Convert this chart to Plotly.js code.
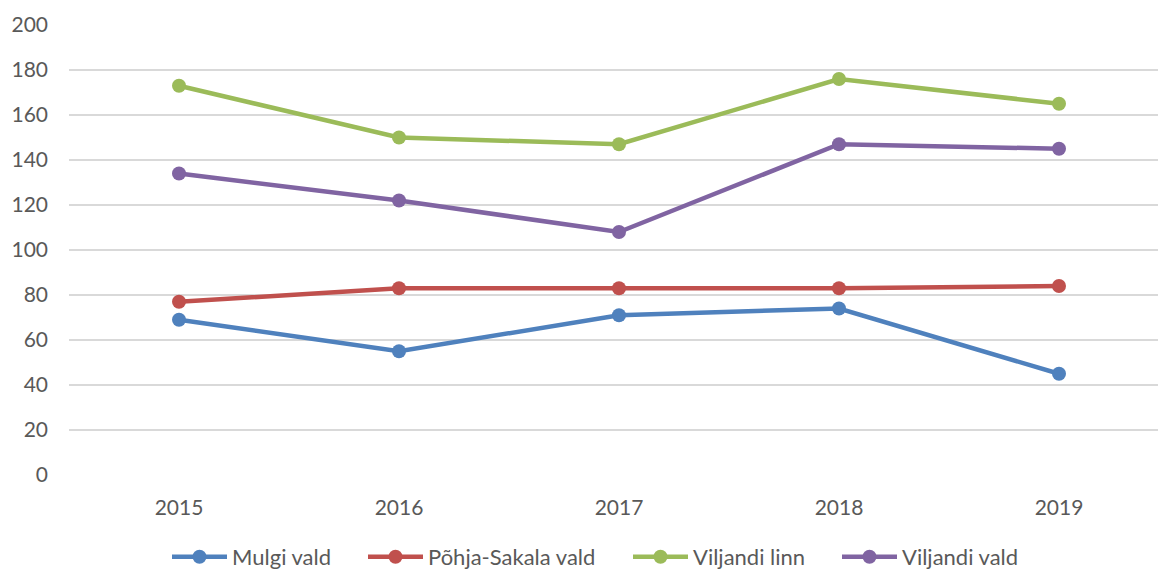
<!DOCTYPE html>
<html>
<head>
<meta charset="utf-8">
<script src="https://cdn.plot.ly/plotly-3.0.1.min.js"></script>
<style>html,body{margin:0;padding:0;background:#fff;}#chart{width:1158px;height:570px;}</style>
</head>
<body>
<div id="chart"></div>
<script>
const years = ["2015", "2016", "2017", "2018", "2019"];
const mulgiVald = [69, 55, 71, 74, 45];
const pohjaSakalaVald = [77, 83, 83, 83, 84];
const viljandiLinn = [173, 150, 147, 176, 165];
const viljandiVald = [134, 122, 108, 147, 145];
const seriesNames = ["Mulgi vald", "Põhja-Sakala vald", "Viljandi linn", "Viljandi vald"];
const yTicks = [0, 20, 40, 60, 80, 100, 120, 140, 160, 180, 200];

const colors = ["#4F81BD", "#C0504D", "#9BBB59", "#8064A2"];
const allValues = [mulgiVald, pohjaSakalaVald, viljandiLinn, viljandiVald];
const legendIds = ["legend", "legend2", "legend3", "legend4"];
const legendX = [175, 371, 636, 845];

const traces = allValues.map((vals, i) => ({
  x: years,
  y: vals,
  name: seriesNames[i],
  type: "scatter",
  mode: "lines+markers",
  line: {color: colors[i], width: 4.5},
  marker: {color: colors[i], size: 14},
  legend: legendIds[i]
}));

const layout = {
  width: 1158,
  height: 570,
  margin: {l: 69, r: 0, t: 25, b: 95},
  paper_bgcolor: "#ffffff",
  plot_bgcolor: "#ffffff",
  font: {family: "Lato, 'Open Sans', sans-serif", size: 21, color: "#595959"},
  showlegend: true,
  xaxis: {
    type: "category",
    range: [-0.5, 4.45],
    showgrid: false,
    zeroline: false,
    showline: false,
    ticks: "",
    ticklabelstandoff: 18,
    tickfont: {size: 21, color: "#595959"}
  },
  yaxis: {
    range: [0, 200],
    tickvals: yTicks,
    showgrid: true,
    gridcolor: "#D9D9D9",
    gridwidth: 1.5,
    zeroline: false,
    showline: false,
    ticks: "",
    ticklabelstandoff: 20,
    tickfont: {size: 21, color: "#595959"}
  }
};

legendIds.forEach((id, i) => {
  layout[id] = {
    orientation: "h",
    xref: "container", x: (legendX[i] - 8) / 1158, xanchor: "left",
    yref: "container", y: 1 - 557 / 570, yanchor: "middle",
    font: {size: 22, color: "#595959"},
    itemwidth: 55,
    bgcolor: "rgba(0,0,0,0)"
  };
});

Plotly.newPlot("chart", traces, layout, {displayModeBar: false, staticPlot: true});
</script>
</body>
</html>
